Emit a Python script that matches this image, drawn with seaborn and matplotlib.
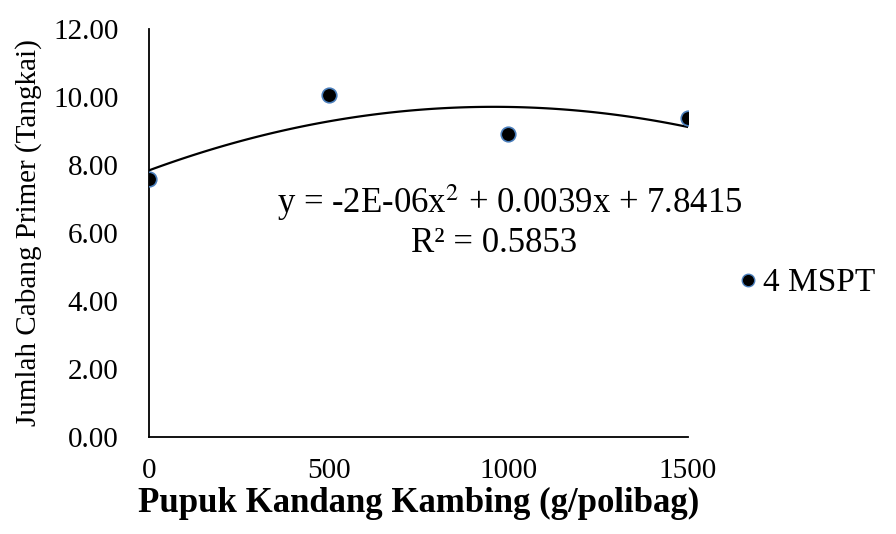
import numpy as np
import pandas as pd
import matplotlib
matplotlib.use("Agg")
import matplotlib.pyplot as plt
import seaborn as sns
from matplotlib.lines import Line2D

# data
dosis = [0, 500, 1000, 1500]
cabang = [7.58, 10.07, 8.92, 9.38]
seri = "4 MSPT"
yticks = [0, 2, 4, 6, 8, 10, 12]
xticks = [0, 500, 1000, 1500]

df = pd.DataFrame({"x": dosis, "y": cabang})

sns.set_style("white")
plt.rcParams["font.family"] = ["Liberation Serif", "DejaVu Serif"]
plt.rcParams["mathtext.fontset"] = "stix"
plt.rcParams["text.color"] = "black"
plt.rcParams["axes.labelcolor"] = "black"
plt.rcParams["xtick.color"] = "black"
plt.rcParams["ytick.color"] = "black"

fig = plt.figure(figsize=(8.96, 5.34), dpi=100)
ax = fig.add_axes([149 / 896, 1 - 437 / 534, (688 - 149) / 896, (437 - 29) / 534])

# trendline polinomial orde 2
sns.regplot(data=df, x="x", y="y", order=2, ci=None, scatter=False,
            line_kws={"color": "black", "lw": 1.6}, ax=ax)
sns.scatterplot(data=df, x="x", y="y", color="black", s=110,
                edgecolor="#4a7ebb", linewidth=1.2, ax=ax, zorder=3, legend=False)

ax.set_xlim(0, 1500)
ax.set_ylim(0, 12)
ax.set_xticks(xticks)
ax.set_yticks(yticks)
ax.set_yticklabels([f"{v:.2f}" for v in yticks])
ax.tick_params(axis="both", length=0, labelsize=21)
ax.tick_params(axis="x", pad=15)
ax.tick_params(axis="y", pad=22)

for s in ["top", "right"]:
    ax.spines[s].set_visible(False)
for s in ["left", "bottom"]:
    ax.spines[s].set_color("black")
    ax.spines[s].set_linewidth(1.3)

ax.set_xlabel("Pupuk Kandang Kambing (g/polibag)", fontsize=25, fontweight="bold", labelpad=2)
ax.set_ylabel("Jumlah Cabang Primer (Tangkai)", fontsize=21, labelpad=8)

# persamaan trendline
ax.text(1005, 6.9, "y = -2E-06x$^2$ + 0.0039x + 7.8415",
        ha="center", va="center", fontsize=25)
ax.text(960, 5.7, "R² = 0.5853", ha="center", va="center", fontsize=25)

handle = Line2D([], [], marker="o", ls="", color="black", markeredgecolor="#4a7ebb",
                markersize=9, markeredgewidth=1)
fig.legend([handle], [seri], loc="center left", bbox_to_anchor=(0.786, 1 - 283 / 534),
           frameon=False, fontsize=24, handletextpad=0.05, handlelength=0.8)

fig.savefig("out.png", dpi=100)
